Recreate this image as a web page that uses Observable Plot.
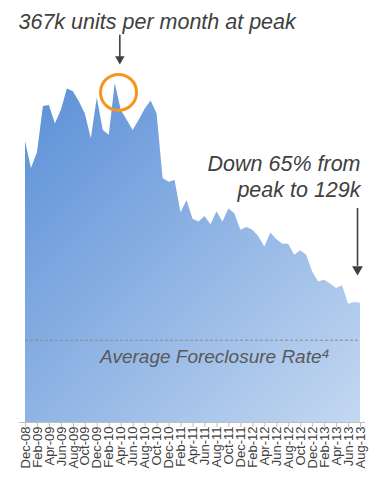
<!DOCTYPE html>
<html><head><meta charset="utf-8">
<script src="https://cdn.jsdelivr.net/npm/d3@7"></script>
<script src="https://cdn.jsdelivr.net/npm/@observablehq/plot@0.6"></script>
<style>html,body{margin:0;padding:0;background:#fff;} svg{display:block;}</style>
</head><body><div id="chart"></div>
<script>
const months = ["Dec-08",
  "Jan-09","Feb-09","Mar-09","Apr-09","May-09","Jun-09","Jul-09","Aug-09","Sep-09","Oct-09","Nov-09","Dec-09",
  "Jan-10","Feb-10","Mar-10","Apr-10","May-10","Jun-10","Jul-10","Aug-10","Sep-10","Oct-10","Nov-10","Dec-10",
  "Jan-11","Feb-11","Mar-11","Apr-11","May-11","Jun-11","Jul-11","Aug-11","Sep-11","Oct-11","Nov-11","Dec-11",
  "Jan-12","Feb-12","Mar-12","Apr-12","May-12","Jun-12","Jul-12","Aug-12","Sep-12","Oct-12","Nov-12","Dec-12",
  "Jan-13","Feb-13","Mar-13","Apr-13","May-13","Jun-13","Jul-13","Aug-13"];
// foreclosures, thousands of units per month
const foreclosures = [304,
  275,292,342,343,323,338,361,358,347,334,307,351,
  316,311,367,338,327,316,327,339,348,334,264,260,
  262,227,240,220,217,223,214,228,217,231,226,208,
  211,208,201,190,205,198,193,193,181,186,181,163,
  152,154,150,145,148,128,130,129];
const tickLabels = months.filter((d, i) => i % 2 === 0);
const averageRate = 89;
const yMax = 400;
const peakNote = "367k units per month at peak";
const endNote = "Down 65% from\npeak to 129k";
const averageNote = "Average Foreclosure Rate\u2074";
const averageNoteMonth = "Aug-11";

const table = months.map((m, i) => ({month: m, value: foreclosures[i]}));
const peak = table.reduce((a, b) => (b.value > a.value ? b : a));
const last = table[table.length - 1];
const averageLine = [{value: averageRate, from: months[0], to: months[months.length - 1]}];

const font = "'Liberation Sans', Arial, Helvetica, sans-serif";
const dark = "#404040";

const gradientDefs = () => {
  const defs = d3.create("svg:defs");
  const g = defs.append("linearGradient").attr("id", "areaGrad")
    .attr("x1", 0).attr("y1", 0).attr("x2", 1).attr("y2", 1);
  g.append("stop").attr("offset", "0%").attr("stop-color", "#5a8fd7");
  g.append("stop").attr("offset", "100%").attr("stop-color", "#c4d8f1");
  return defs.node();
};

const chart = Plot.plot({
  width: 377,
  height: 477,
  marginLeft: 19,
  marginRight: 12,
  marginTop: 0,
  marginBottom: 55,
  x: {type: "point", domain: months, range: [22, 363], axis: null},
  y: {domain: [0, yMax], range: [422, 52.4], axis: null},
  style: {fontFamily: font, fontSize: "13px", color: dark, background: "#fff"},
  marks: [
    gradientDefs,
    Plot.areaY(table, {x: "month", y: "value", fill: "url(#areaGrad)"}),
    Plot.ruleY(averageLine, {y: "value", x1: "from", x2: "to", stroke: "#8c8c8c", strokeWidth: 1.2, strokeDasharray: "3,2"}),
    Plot.text([{month: averageNoteMonth, value: averageRate, label: averageNote}], {
      x: "month", y: "value", text: "label", textAnchor: "middle", lineAnchor: "bottom",
      dx: -2, dy: 23, fontSize: 19, fontStyle: "italic", fill: "#595959", fontFamily: font
    }),
    Plot.ruleY([0], {stroke: "#bfbfbf"}),
    Plot.axisX({ticks: tickLabels, tickRotate: -90, tickSize: 5, tickPadding: -1, stroke: "#bfbfbf", fill: dark, label: null, fontSize: 13}),
    // peak highlight
    Plot.dot([peak], {x: "month", y: "value", r: 18, stroke: "#f7941d", strokeWidth: 3, fill: "none", dx: 3.3, dy: 9}),
    Plot.ruleX([peak], {x: "month", y1: d => d.value + 52, y2: d => d.value + 28, dx: 4.6, stroke: dark, strokeWidth: 1.6}),
    Plot.dot([peak], {x: "month", y: d => d.value + 26.3, symbol: "triangle", rotate: 180, r: 3.5, fill: dark, stroke: "none", dx: 4.6}),
    Plot.text([peakNote], {frameAnchor: "top-left", textAnchor: "start", lineAnchor: "bottom", dx: -1, dy: 28,
      fontSize: 21.5, fontStyle: "italic", fill: dark, fontFamily: font}),
    // end annotation
    Plot.ruleX([last], {x: "month", y1: d => d.value + 102.6, y2: d => d.value + 40, dx: -3, stroke: dark, strokeWidth: 1.6}),
    Plot.dot([last], {x: "month", y: d => d.value + 36.8, symbol: "triangle", rotate: 180, r: 4, fill: dark, stroke: "none", dx: -3}),
    Plot.text([{month: last.month, value: last.value, label: endNote}], {
      x: "month", y: "value", text: "label", textAnchor: "end", lineAnchor: "bottom", lineHeight: 1.21,
      dx: 0, dy: -106.3, fontSize: 21.5, fontStyle: "italic", fill: dark, fontFamily: font
    })
  ]
});
document.getElementById("chart").append(chart);
</script>
</body></html>
